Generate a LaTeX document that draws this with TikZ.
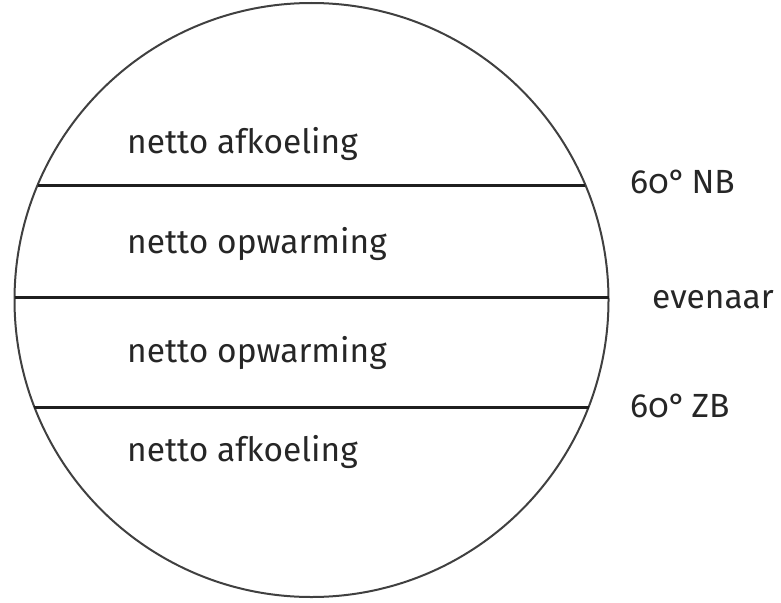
\documentclass[tikz,border=0pt]{standalone}
\usepackage{fontspec}
\setmainfont[Numbers=OldStyle]{Fira Sans}
\begin{document}
\begin{tikzpicture}[x=1pt,y=-1pt,
  lbl/.style={anchor=base west,inner sep=0pt,font=\fontsize{33.5}{38}\selectfont,text=black!85},
  band/.style={line width=3pt,draw=black!88},
  globeline/.style={line width=2pt,draw=black!75}]
\useasboundingbox (0,0) rectangle (781,602);
\coordinate (c) at (311.5,300);
\draw[globeline] (c) circle[radius=297];
\coordinate (n1) at (37.7,185);
\coordinate (n2) at (585.3,185);
\coordinate (e1) at (14.5,297);
\coordinate (e2) at (608.5,297);
\coordinate (s1) at (34.4,407);
\coordinate (s2) at (588.6,407);
\draw[band] (n1) -- (n2);
\draw[band] (e1) -- (e2);
\draw[band] (s1) -- (s2);
\node[lbl] (t1) at (127,153) {netto afkoeling};
\node[lbl] (t2) at (127,253) {netto opwarming};
\node[lbl] (t3) at (127,362) {netto opwarming};
\node[lbl] (t4) at (127,461) {netto afkoeling};
\node[lbl] (r1) at (630,193) {60°\hspace{-0.1em} NB};
\node[lbl] (r2) at (652,308) {evenaar};
\node[lbl] (r3) at (630,417) {60°\hspace{-0.1em} ZB};
\end{tikzpicture}
\end{document}
